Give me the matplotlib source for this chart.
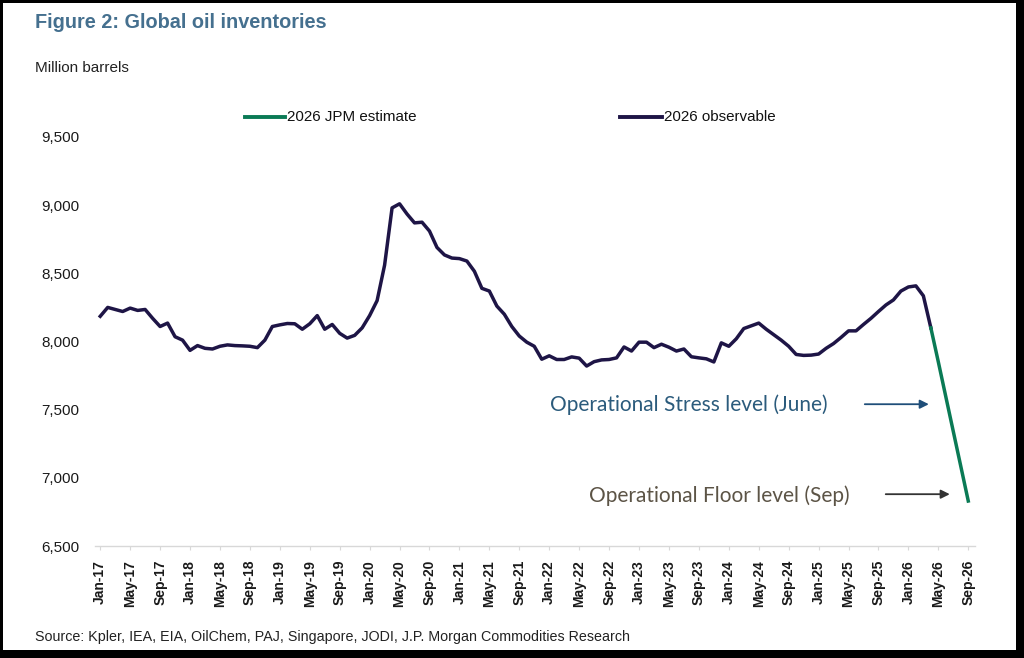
import numpy as np
import matplotlib
matplotlib.use('Agg')
import matplotlib.pyplot as plt
from matplotlib.patches import Rectangle

# monthly inventories, Jan-17 .. Apr-26 (million barrels)
observable = [
    8185, 8250, 8235, 8220, 8245, 8228, 8235, 8170, 8110, 8135, 8035, 8010,
    7935, 7970, 7950, 7945, 7965, 7975, 7970, 7968, 7965, 7955, 8010, 8110,
    8122, 8132, 8130, 8090, 8130, 8190, 8090, 8125, 8060, 8025, 8045, 8100,
    8190, 8300, 8560, 8980, 9010, 8935, 8870, 8875, 8810, 8690, 8635, 8612,
    8608, 8590, 8515, 8390, 8370, 8260, 8200, 8110, 8040, 7995, 7965, 7870,
    7895, 7868, 7868, 7887, 7878, 7820, 7852, 7865, 7868, 7880, 7960, 7930,
    7995, 7995, 7955, 7980, 7958, 7930, 7945, 7888, 7880, 7873, 7850, 7990,
    7965, 8020, 8095, 8115, 8135, 8090, 8050, 8010, 7965, 7905, 7898, 7900,
    7908, 7950, 7985, 8030, 8078, 8078, 8125, 8170, 8220, 8268, 8305, 8370,
    8400, 8408, 8335, 8100,
]
# JPM estimate, Apr-26 .. Sep-26
estimate = [8100, 7850, 7595, 7340, 7085, 6830]

tick_labels = [
    'Jan-17', 'May-17', 'Sep-17', 'Jan-18', 'May-18', 'Sep-18',
    'Jan-19', 'May-19', 'Sep-19', 'Jan-20', 'May-20', 'Sep-20',
    'Jan-21', 'May-21', 'Sep-21', 'Jan-22', 'May-22', 'Sep-22',
    'Jan-23', 'May-23', 'Sep-23', 'Jan-24', 'May-24', 'Sep-24',
    'Jan-25', 'May-25', 'Sep-25', 'Jan-26', 'May-26', 'Sep-26',
]
y_ticks = [6500, 7000, 7500, 8000, 8500, 9000, 9500]

plt.rcParams['font.family'] = ['Liberation Sans', 'DejaVu Sans']

W, H = 1024, 658
fig = plt.figure(figsize=(W / 100, H / 100), dpi=100, facecolor='black')
fig.add_artist(Rectangle((3 / W, 8 / H), 1013 / W, 647 / H,
                         transform=fig.transFigure, facecolor='white',
                         edgecolor='none', zorder=-10))

ax = fig.add_axes([95 / W, (H - 546) / H, 880 / W, 409 / H])
ax.set_facecolor('white')

x_obs = np.arange(len(observable))
x_est = np.arange(len(observable) - 1, len(observable) - 1 + len(estimate))

ax.plot(x_obs, observable, color='#1e1546', lw=2.5, solid_joinstyle='round', zorder=3)
ax.plot(x_est, estimate, color='#0a7a55', lw=2.5, zorder=3)

ax.set_xlim(-0.7, 116.9)
ax.set_ylim(6500, 9500)
ax.set_xticks(np.arange(0, 4 * len(tick_labels), 4))
ax.set_xticklabels(tick_labels, rotation=90, fontsize=10, fontweight='bold', color='#1a1a1a')
ax.set_yticks(y_ticks)
ax.set_yticklabels([f'{v:,}' for v in y_ticks], fontsize=11, color='#1a1a1a')
ax.tick_params(axis='y', length=0, pad=11)
ax.tick_params(axis='x', length=3, color='#d8d8d8', pad=7)
for s in ['top', 'right', 'left']:
    ax.spines[s].set_visible(False)
ax.spines['bottom'].set_color('#d8d8d8')
ax.spines['bottom'].set_linewidth(1.0)

# annotations
ax.text(97.2, 7540, 'Operational Stress level (June)', ha='right', va='center',
        fontsize=15, color='#2b5b7c', family='Lato')
ax.annotate('', xy=(111.1, 7540), xytext=(101.8, 7540),
            arrowprops=dict(arrowstyle='-|>', color='#1f4e79', lw=1.3, mutation_scale=13))
ax.text(100.2, 6870, 'Operational Floor level (Sep)', ha='right', va='center',
        fontsize=15, color='#5c5446', family='Lato')
ax.annotate('', xy=(113.9, 6880), xytext=(104.6, 6880),
            arrowprops=dict(arrowstyle='-|>', color='#333333', lw=1.3, mutation_scale=13))

# legend drawn by hand above the plot
fig.add_artist(plt.Line2D([245 / W, 285 / W], [(H - 117) / H] * 2, color='#0a7a55', lw=2.8))
fig.text(287 / W, (H - 117) / H, '2026 JPM estimate', fontsize=10.9, va='center', color='#111111')
fig.add_artist(plt.Line2D([620 / W, 662 / W], [(H - 117) / H] * 2, color='#1e1546', lw=2.8))
fig.text(664 / W, (H - 117) / H, '2026 observable', fontsize=10.9, va='center', color='#111111')

fig.text(35 / W, (H - 23) / H, 'Figure 2: Global oil inventories', fontsize=14.3,
         fontweight='bold', color='#45708f', va='center')
fig.text(35 / W, (H - 68) / H, 'Million barrels', fontsize=11, color='#222222', va='center')
fig.text(35 / W, (H - 637) / H,
         'Source: Kpler, IEA, EIA, OilChem, PAJ, Singapore, JODI, J.P. Morgan Commodities Research',
         fontsize=10.3, color='#222222', va='center')

fig.savefig('out.png', dpi=100, facecolor=fig.get_facecolor())
